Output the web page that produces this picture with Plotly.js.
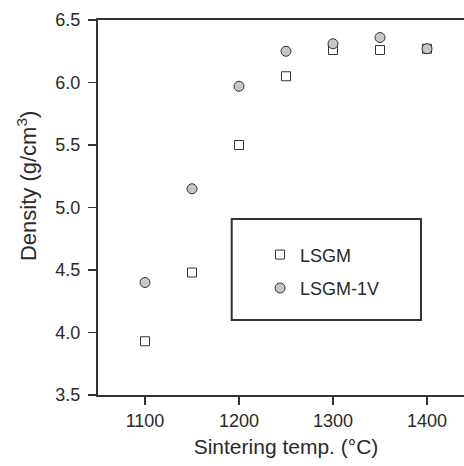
<!DOCTYPE html>
<html>
<head>
<meta charset="utf-8">
<script src="https://cdn.plot.ly/plotly-3.0.1.min.js"></script>
<style>
html, body { margin: 0; padding: 0; overflow: hidden; background: #fff; }
#chart { width: 480px; height: 466px; }
</style>
</head>
<body>
<div id="chart"></div>
<script>
const temps = [1100, 1150, 1200, 1250, 1300, 1350, 1400];
const lsgm = [3.93, 4.48, 5.50, 6.05, 6.26, 6.26, 6.27];
const lsgm1v = [4.40, 5.15, 5.97, 6.25, 6.31, 6.36, 6.27];
const seriesNames = ['LSGM', 'LSGM-1V'];
const xTicks = [1100, 1200, 1300, 1400];
const yTicks = [3.5, 4.0, 4.5, 5.0, 5.5, 6.0, 6.5];

const font = 'Liberation Sans, Arial, sans-serif';
const ink = '#333333';
const txt = '#2a2a2a';

const traces = [
  {
    x: temps, y: lsgm, name: seriesNames[0], type: 'scatter', mode: 'markers',
    legendgroup: 'a',
    marker: { symbol: 'square', size: 9, color: '#ffffff', line: { color: ink, width: 1 } }
  },
  {
    x: temps, y: lsgm1v, name: seriesNames[1], type: 'scatter', mode: 'markers',
    legendgroup: 'b',
    marker: { symbol: 'circle', size: 10, color: '#c6c6c6', line: { color: ink, width: 1 } }
  }
];

const layout = {
  width: 480, height: 466,
  margin: { l: 98, r: 6, t: 20, b: 71 },
  paper_bgcolor: '#ffffff', plot_bgcolor: '#ffffff',
  font: { family: font, color: txt, size: 18 },
  showlegend: true,
  legend: {
    x: 0.431, y: 0.423, xanchor: 'left', yanchor: 'top',
    bgcolor: 'rgba(0,0,0,0)', borderwidth: 0,
    traceorder: 'grouped', tracegroupgap: 7,
    font: { family: font, size: 18, color: txt }
  },
  xaxis: {
    range: [1050, 1450], tickvals: xTicks, ticktext: xTicks.map(String),
    showgrid: false, zeroline: false,
    showline: true, linecolor: ink, linewidth: 2, mirror: true,
    ticks: 'outside', ticklen: 8, tickwidth: 1.5, tickcolor: ink,
    tickfont: { family: font, size: 18, color: txt },
    title: { text: 'Sintering temp. (°C)', font: { family: font, size: 21, color: txt }, standoff: 10 }
  },
  yaxis: {
    range: [3.5, 6.5], tickvals: yTicks, ticktext: yTicks.map(v => v.toFixed(1)),
    showgrid: false, zeroline: false,
    showline: true, linecolor: ink, linewidth: 2, mirror: false,
    ticks: 'outside', ticklen: 8, tickwidth: 1.5, tickcolor: ink,
    ticklabelstandoff: 4,
    tickfont: { family: font, size: 18, color: txt }
  },
  annotations: [
    {
      text: 'Density (g/cm<sup>3</sup>)', textangle: -90,
      xref: 'paper', yref: 'paper', x: -0.189, y: 0.557,
      xanchor: 'center', yanchor: 'middle', showarrow: false,
      font: { family: font, size: 22, color: txt }
    }
  ],
  shapes: [
    {
      type: 'rect', xref: 'paper', yref: 'paper',
      x0: 0.3556, x1: 0.859, y0: 0.2, y1: 0.4693,
      line: { color: ink, width: 2 }, fillcolor: 'rgba(0,0,0,0)', layer: 'below'
    }
  ]
};

Plotly.newPlot('chart', traces, layout, { displayModeBar: false, staticPlot: true });
</script>
</body>
</html>
